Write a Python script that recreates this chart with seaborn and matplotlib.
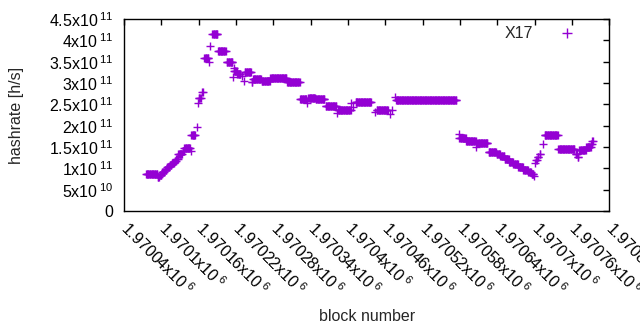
import numpy as np
import pandas as pd
import seaborn as sns
import matplotlib
matplotlib.use("Agg")
import matplotlib.pyplot as plt
from matplotlib.lines import Line2D

# runs of blocks that share one hashrate value
run_start = [1970075, 1970094, 1970097, 1970101, 1970105, 1970109, 1970113, 1970117,
             1970121, 1970124, 1970127, 1970134, 1970137, 1970147, 1970148, 1970157,
             1970158, 1970160, 1970165, 1970169, 1970176, 1970178, 1970182, 1970191,
             1970205, 1970215, 1970216, 1970217, 1970222, 1970230, 1970233, 1970234,
             1970245, 1970247, 1970261, 1970275, 1970302, 1970323, 1970334, 1970336,
             1970348, 1970364, 1970383, 1970384, 1970405, 1970408, 1970412, 1970443,
             1970446, 1970467, 1970471, 1970475, 1970477, 1970578, 1970579, 1970590,
             1970606, 1970608, 1970626, 1970639, 1970645, 1970652, 1970659, 1970666,
             1970674, 1970682, 1970690, 1970695, 1970699, 1970700, 1970702, 1970705,
             1970708, 1970713, 1970716, 1970738, 1970766, 1970769, 1970772, 1970783,
             1970791, 1970793]
run_end = [1970093, 1970096, 1970100, 1970104, 1970108, 1970112, 1970116, 1970120,
           1970123, 1970126, 1970133, 1970136, 1970146, 1970147, 1970154, 1970157,
           1970158, 1970163, 1970166, 1970175, 1970176, 1970178, 1970190, 1970203,
           1970214, 1970215, 1970216, 1970221, 1970227, 1970230, 1970233, 1970244,
           1970246, 1970260, 1970274, 1970301, 1970322, 1970333, 1970334, 1970347,
           1970362, 1970381, 1970383, 1970404, 1970405, 1970408, 1970437, 1970443,
           1970464, 1970467, 1970471, 1970475, 1970574, 1970578, 1970589, 1970605,
           1970606, 1970624, 1970638, 1970644, 1970651, 1970658, 1970665, 1970673,
           1970681, 1970689, 1970694, 1970698, 1970699, 1970700, 1970703, 1970706,
           1970709, 1970713, 1970737, 1970764, 1970768, 1970770, 1970782, 1970790,
           1970792, 1970794]
hashrate = [8.6e10, 8.0e10, 8.5e10, 9.1e10, 9.7e10, 1.03e11, 1.08e11, 1.13e11,
            1.17e11, 1.22e11, 1.33e11, 1.40e11, 1.47e11, 1.40e11, 1.77e11, 1.98e11,
            2.52e11, 2.64e11, 2.78e11, 3.58e11, 3.50e11, 3.87e11, 4.14e11, 3.74e11,
            3.49e11, 3.13e11, 3.36e11, 3.28e11, 3.20e11, 3.16e11, 3.05e11, 3.25e11,
            3.03e11, 3.09e11, 3.05e11, 3.11e11, 3.02e11, 2.63e11, 2.52e11, 2.66e11,
            2.63e11, 2.47e11, 2.29e11, 2.37e11, 2.52e11, 2.44e11, 2.55e11, 2.31e11,
            2.36e11, 2.27e11, 2.37e11, 2.68e11, 2.60e11, 1.80e11, 1.72e11, 1.64e11,
            1.51e11, 1.59e11, 1.38e11, 1.34e11, 1.28e11, 1.21e11, 1.15e11, 1.09e11,
            1.03e11, 9.7e10, 9.2e10, 8.7e10, 8.1e10, 1.12e11, 1.20e11, 1.27e11,
            1.33e11, 1.56e11, 1.78e11, 1.45e11, 1.33e11, 1.26e11, 1.43e11, 1.51e11,
            1.58e11, 1.65e11]

x_ticks = list(range(1970040, 1970821, 60))
y_ticks = [0, 5e10, 1e11, 1.5e11, 2e11, 2.5e11, 3e11, 3.5e11, 4e11, 4.5e11]
y_labels = ["0", "5x10$\\,^{10}$", "1x10$\\,^{11}$", "1.5x10$\\,^{11}$", "2x10$\\,^{11}$",
            "2.5x10$\\,^{11}$", "3x10$\\,^{11}$", "3.5x10$\\,^{11}$", "4x10$\\,^{11}$",
            "4.5x10$\\,^{11}$"]

# one point per block
blocks = np.concatenate([np.arange(s, e + 1) for s, e in zip(run_start, run_end)])
values = np.repeat(hashrate, [e - s + 1 for s, e in zip(run_start, run_end)])
df = pd.DataFrame({"block": blocks, "hashrate": values})

sns.set_style("white")
plt.rcParams["font.family"] = ["Liberation Sans", "DejaVu Sans"]
plt.rcParams["mathtext.fontset"] = "custom"
plt.rcParams["mathtext.rm"] = "Liberation Sans"
plt.rcParams["mathtext.it"] = "Liberation Sans"

color = "#9400d3"
fig = plt.figure(figsize=(6.4, 3.3), dpi=100)
ax = fig.add_axes([0.194, 0.3606, 0.758, 0.5818])

sns.scatterplot(data=df, x="block", y="hashrate", marker="+", color=color,
                s=40, linewidth=1.0, ax=ax, legend=False)

ax.set_xlim(1970040, 1970820)
ax.set_ylim(0, 4.5e11)

ax.set_xticks(x_ticks)
ax.set_xticklabels([f"{v / 1e6:g}x10$\\,^{{6}}$" for v in x_ticks],
                   rotation=-45, ha="left", va="center", rotation_mode="anchor")
ax.set_yticks(y_ticks)
ax.set_yticklabels(y_labels)

ax.tick_params(axis="both", direction="in", length=4, width=1, color="black",
               top=True, right=True, labelsize=11.5, labelcolor="black")
ax.tick_params(axis="x", pad=10)
ax.tick_params(axis="y", pad=8)
for sp in ax.spines.values():
    sp.set_color("black")
    sp.set_linewidth(1)

ax.set_xlabel("block number", fontsize=11.5, labelpad=8)
ax.set_ylabel("hashrate [h/s]", fontsize=11.5, labelpad=18)

handle = Line2D([], [], marker="+", linestyle="none", color=color,
                markersize=7, markeredgewidth=1)
ax.legend([handle], ["X17"], loc="upper right", frameon=False, markerfirst=False,
          fontsize=11.5, handletextpad=1.1, borderaxespad=0.0,
          bbox_to_anchor=(0.958, 0.995))

fig.savefig("out.png", dpi=100)
